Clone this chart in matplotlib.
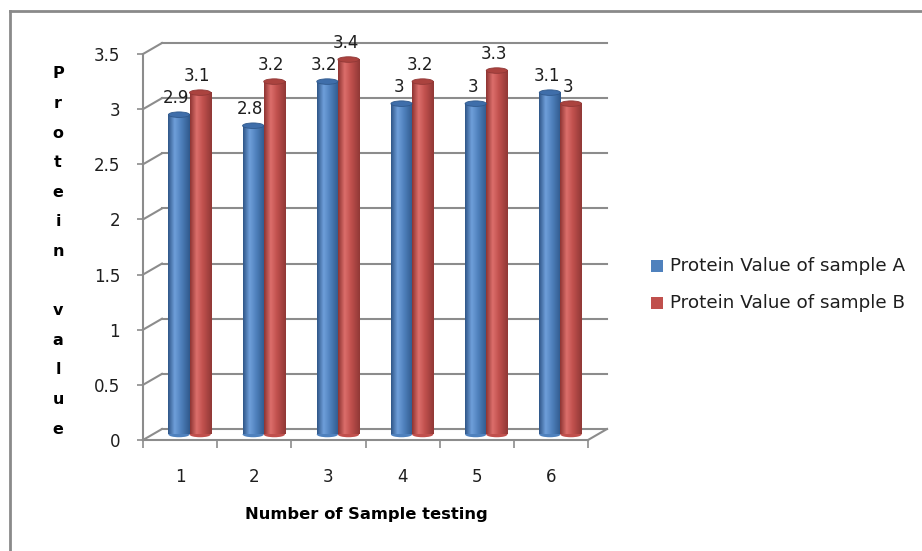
import matplotlib

matplotlib.use("Agg")
import matplotlib.pyplot as plt
import numpy as np
from matplotlib import transforms
from matplotlib.colors import LinearSegmentedColormap
from matplotlib.lines import Line2D
from matplotlib.patches import Ellipse, Rectangle

# chart data
samples = [1, 2, 3, 4, 5, 6]
protein_a = [2.9, 2.8, 3.2, 3.0, 3.0, 3.1]
protein_b = [3.1, 3.2, 3.4, 3.2, 3.3, 3.0]
series_names = ["Protein Value of sample A", "Protein Value of sample B"]
y_ticks = [0, 0.5, 1, 1.5, 2, 2.5, 3, 3.5]
y_title = ["P", "r", "o", "t", "e", "i", "n", "", "v", "a", "l", "u", "e"]
x_title = "Number of Sample testing"

W, H = 922, 551
DEPTH_X, DEPTH_Y = 19, 11  # back wall shift, pixels
GRID = "#8c8c8c"
TEXT = "#1e1e1e"
BAR_W = 0.285

# (dark edge, highlight, base, dark edge) for the cylinder shading
shades = [
    ["#2f5688", "#6f9fda", "#4f81bd", "#30598c"],
    ["#8e3432", "#dc6e6b", "#c0504d", "#903836"],
]
tops = ["#3f6eaa", "#ab433f"]

fig = plt.figure(figsize=(W / 100, H / 100), dpi=100)
ax = fig.add_axes([143 / W, (H - 440) / H, (588 - 143) / W, (440 - 54) / H])
ax.set_facecolor("none")

back_tr = transforms.offset_copy(ax.transData, fig=fig, x=DEPTH_X, y=DEPTH_Y, units="dots")
mid_tr = transforms.offset_copy(ax.transData, fig=fig, x=DEPTH_X / 2, y=DEPTH_Y / 2, units="dots")
label_tr = transforms.offset_copy(ax.transData, fig=fig, x=DEPTH_X / 2 - 3, y=DEPTH_Y / 2 + 16.5, units="dots")

x_lo, x_hi = 0.5, len(samples) + 0.5
ax.set_xlim(x_lo, x_hi)
ax.set_ylim(0, 3.5)

# back wall gridlines plus the short diagonals on the side wall
for yv in y_ticks:
    ax.plot([x_lo, x_hi], [yv, yv], color=GRID, lw=1.5, transform=back_tr, clip_on=False, zorder=0)
    px, py = ax.transData.transform((x_lo, yv))
    ax.add_line(Line2D([px, px + DEPTH_X], [py, py + DEPTH_Y], color=GRID, lw=1.5,
                       transform=transforms.IdentityTransform(), clip_on=False, zorder=0))
px, py = ax.transData.transform((x_hi, 0))
ax.add_line(Line2D([px, px + DEPTH_X], [py, py + DEPTH_Y], color=GRID, lw=1.5,
                   transform=transforms.IdentityTransform(), clip_on=False, zorder=0))

# cylinders
grad = np.linspace(0, 1, 64).reshape(1, -1)
x = np.array(samples, dtype=float)
for k, vals in enumerate([protein_a, protein_b]):
    cmap = LinearSegmentedColormap.from_list(
        f"cyl{k}", list(zip([0, 0.3, 0.6, 1.0], shades[k]))
    )
    centers = x + (k - 0.5) * BAR_W
    for xc, v in zip(centers, vals):
        ax.add_patch(Ellipse((xc, 0), BAR_W, 0.05, transform=mid_tr, facecolor=shades[k][2],
                             edgecolor="none", zorder=2, clip_on=False))
        ax.imshow(grad, cmap=cmap, extent=[xc - BAR_W / 2, xc + BAR_W / 2, 0, v],
                  aspect="auto", transform=mid_tr, zorder=3, interpolation="bilinear",
                  clip_on=False)
        ax.add_patch(Ellipse((xc, v), BAR_W, 0.05, transform=mid_tr, facecolor=tops[k],
                             edgecolor=shades[k][3], lw=0.6, zorder=4, clip_on=False))
        ax.text(xc, v, f"{v:g}", transform=label_tr, ha="center", va="center",
                fontsize=12, color=TEXT, zorder=5)

ax.set_xlim(x_lo, x_hi)
ax.set_ylim(0, 3.5)

# axes: front edge only
for side in ["top", "right"]:
    ax.spines[side].set_visible(False)
for side in ["left", "bottom"]:
    ax.spines[side].set_color(GRID)
    ax.spines[side].set_linewidth(1.5)
ax.set_yticks(y_ticks)
ax.set_yticklabels([f"{t:g}" for t in y_ticks])
ax.tick_params(axis="y", direction="out", length=4.5, width=1.2, color=GRID,
               pad=12, labelsize=12, labelcolor=TEXT)
ax.set_xticks(samples)
ax.set_xticklabels([str(s) for s in samples])
ax.set_xticks(np.arange(x_lo, x_hi + 0.01, 1.0), minor=True)
ax.tick_params(axis="x", which="major", length=0, pad=20, labelsize=12, labelcolor=TEXT)
ax.tick_params(axis="x", which="minor", direction="out", length=5.5, width=1.2, color=GRID)

# titles
fig.text(366 / W, 1 - 515 / H, x_title, ha="center", va="center", fontsize=11.8,
         fontweight="bold", color="black")
for i, ch in enumerate(y_title):
    fig.text(58 / W, 1 - (74 + i * 29.6) / H, ch, ha="center", va="center",
             fontsize=11.5, fontweight="bold", color="black")

# legend
for i, name in enumerate(series_names):
    yc = 266 + i * 37
    fig.add_artist(Rectangle((651 / W, 1 - (yc + 6) / H), 12 / W, 12 / H,
                             transform=fig.transFigure, facecolor=shades[i][2], edgecolor="none"))
    fig.text(670 / W, 1 - yc / H, name, ha="left", va="center", fontsize=13.2, color=TEXT)

# outer chart border (left and top only visible)
fig.add_artist(Line2D([10 / W, 10 / W], [0, 1 - 11 / H], transform=fig.transFigure,
                      color="#8a8a8a", lw=2))
fig.add_artist(Line2D([10 / W, 1], [1 - 11 / H, 1 - 11 / H], transform=fig.transFigure,
                      color="#8a8a8a", lw=2))

fig.savefig("out.png", dpi=100)
